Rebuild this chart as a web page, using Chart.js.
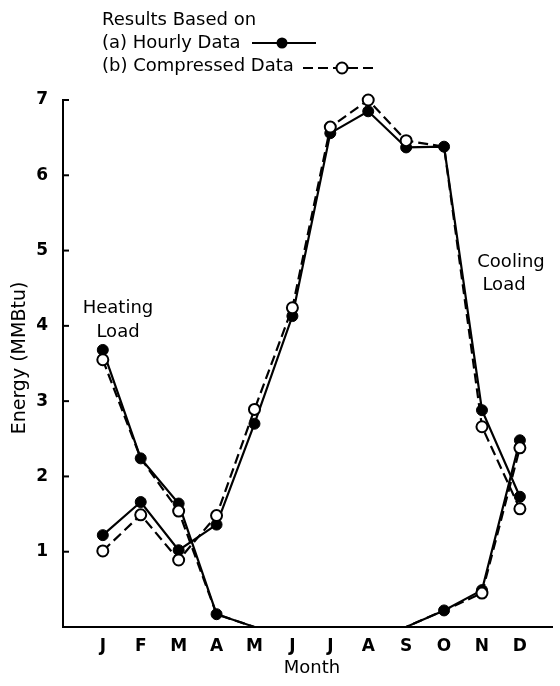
<!DOCTYPE html>
<html>
<head>
<meta charset="utf-8">
<script src="https://cdn.jsdelivr.net/npm/chart.js@4.4.1/dist/chart.umd.min.js"></script>
<style>
html, body { margin: 0; padding: 0; background: #fff; }
#wrap { position: relative; width: 560px; height: 686px; }
</style>
</head>
<body>
<div id="wrap"><canvas id="chart" width="560" height="686"></canvas></div>
<script>
// Monthly energy (MMBtu)
const months = ['J', 'F', 'M', 'A', 'M', 'J', 'J', 'A', 'S', 'O', 'N', 'D'];
const heatingHourly = [3.68, 2.24, 1.64, 0.17, 0, 0, 0, 0, 0, 0.22, 0.49, 2.48];
const heatingCompressed = [3.55, 2.24, 1.54, 0.17, 0, 0, 0, 0, 0, 0.22, 0.45, 2.38];
const coolingHourly = [1.22, 1.66, 1.02, 1.36, 2.70, 4.13, 6.56, 6.85, 6.37, 6.38, 2.88, 1.73];
const coolingCompressed = [1.01, 1.49, 0.89, 1.48, 2.89, 4.24, 6.64, 7.00, 6.46, 6.38, 2.66, 1.57];
const yTicks = [0, 1, 2, 3, 4, 5, 6, 7];

const FONT = '"DejaVu Sans", "Liberation Sans", sans-serif';
const R = 5.5;

function toPoints(values) {
    return values.map((v, i) => ({ x: i, y: v }));
}

// hide an open marker where it sits right on the filled one
function compressedRadius(other) {
    return ctx => (ctx.raw && Math.abs(ctx.raw.y - other[ctx.dataIndex]) < 0.01) ? 0 : R;
}

function hourlyRadius(ctx) {
    return (ctx.raw && ctx.raw.y === 0) ? 0 : R;
}

const hourlyStyle = {
    borderColor: '#000',
    borderWidth: 2.2,
    pointBackgroundColor: '#000',
    pointBorderColor: '#000',
    pointBorderWidth: 1,
    tension: 0,
    clip: false
};

const compressedStyle = {
    borderColor: '#000',
    borderWidth: 2.2,
    borderDash: [10, 5],
    pointBackgroundColor: '#fff',
    pointBorderColor: '#000',
    pointBorderWidth: 2,
    tension: 0,
    clip: false
};

// legend, annotations, axis titles and inner tick marks
const decorations = {
    id: 'decorations',
    afterDraw(chart) {
        const { ctx, chartArea, scales } = chart;
        ctx.save();
        ctx.strokeStyle = '#000';
        ctx.fillStyle = '#000';
        ctx.lineWidth = 2;

        // inward tick marks on the y axis
        yTicks.filter(v => v > 0).forEach(v => {
            const py = scales.y.getPixelForValue(v);
            ctx.beginPath();
            ctx.moveTo(chartArea.left, py);
            ctx.lineTo(chartArea.left + 6, py);
            ctx.stroke();
        });

        ctx.font = '18px ' + FONT;
        ctx.textBaseline = 'middle';
        ctx.textAlign = 'left';
        ctx.fillText('Results Based on', 102, 20);
        ctx.fillText('(a) Hourly Data', 102, 43);
        ctx.fillText('(b) Compressed Data', 102, 66);

        // legend samples
        ctx.beginPath();
        ctx.moveTo(252, 43);
        ctx.lineTo(316, 43);
        ctx.stroke();
        ctx.beginPath();
        ctx.arc(282, 43, R, 0, Math.PI * 2);
        ctx.fill();

        ctx.setLineDash([10, 5]);
        ctx.beginPath();
        ctx.moveTo(303, 68);
        ctx.lineTo(378, 68);
        ctx.stroke();
        ctx.setLineDash([]);
        ctx.beginPath();
        ctx.arc(342, 68, R, 0, Math.PI * 2);
        ctx.fillStyle = '#fff';
        ctx.fill();
        ctx.stroke();
        ctx.fillStyle = '#000';

        // annotations
        ctx.textAlign = 'center';
        ctx.fillText('Heating', 118, 308);
        ctx.fillText('Load', 118, 332);
        ctx.fillText('Cooling', 511, 262);
        ctx.fillText('Load', 504, 285);

        // axis titles
        ctx.fillText('Month', 312, 668);
        ctx.save();
        ctx.translate(20, 358);
        ctx.rotate(-Math.PI / 2);
        ctx.font = '19px ' + FONT;
        ctx.fillText('Energy (MMBtu)', 0, 0);
        ctx.restore();

        ctx.restore();
    }
};

new Chart(document.getElementById('chart').getContext('2d'), {
    type: 'line',
    data: {
        datasets: [
            Object.assign({ label: 'Heating (compressed)', data: toPoints(heatingCompressed), pointRadius: compressedRadius(heatingHourly) }, compressedStyle),
            Object.assign({ label: 'Cooling (compressed)', data: toPoints(coolingCompressed), pointRadius: compressedRadius(coolingHourly) }, compressedStyle),
            Object.assign({ label: 'Heating (hourly)', data: toPoints(heatingHourly), pointRadius: hourlyRadius }, hourlyStyle),
            Object.assign({ label: 'Cooling (hourly)', data: toPoints(coolingHourly), pointRadius: hourlyRadius }, hourlyStyle)
        ]
    },
    options: {
        responsive: false,
        animation: false,
        devicePixelRatio: 1,
        layout: { padding: { top: 100, right: 4, left: 0, bottom: 0 } },
        plugins: {
            legend: { display: false },
            tooltip: { enabled: false }
        },
        scales: {
            x: {
                type: 'linear',
                min: -1.05,
                max: 11.86,
                afterBuildTicks: scale => { scale.ticks = months.map((m, i) => ({ value: i })); },
                afterFit: scale => { scale.height = 59; },
                ticks: {
                    callback: value => months[value],
                    autoSkip: false,
                    maxRotation: 0,
                    padding: 9,
                    color: '#000',
                    font: { family: FONT, size: 17, weight: 'bold' }
                },
                grid: { display: false, drawTicks: false },
                border: { display: true, color: '#000', width: 2 }
            },
            y: {
                min: 0,
                max: 7,
                afterBuildTicks: scale => { scale.ticks = yTicks.map(v => ({ value: v })); },
                afterFit: scale => { scale.width = 63; },
                ticks: {
                    callback: value => value === 0 ? '' : value,
                    padding: 15,
                    color: '#000',
                    font: { family: FONT, size: 17, weight: 'bold' }
                },
                grid: { display: false, drawTicks: false },
                border: { display: true, color: '#000', width: 2 }
            }
        }
    },
    plugins: [decorations]
});
</script>
</body>
</html>
